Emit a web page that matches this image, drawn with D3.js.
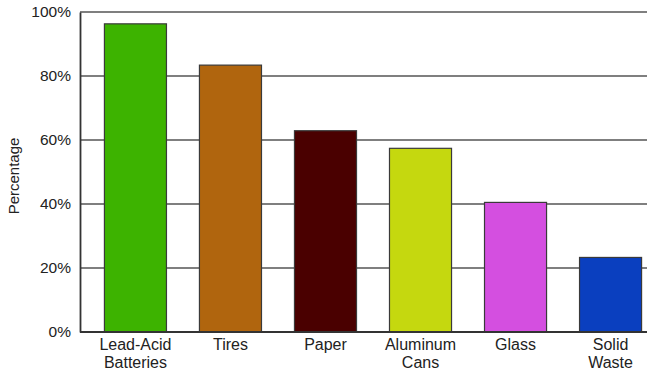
<!DOCTYPE html>
<html>
<head>
<meta charset="utf-8">
<script src="https://cdn.jsdelivr.net/npm/d3@7"></script>
<style>
  html, body { margin: 0; padding: 0; background: #fff; }
  svg { display: block; font-family: "Liberation Sans", Arial, sans-serif; }
</style>
</head>
<body>
<svg id="chart" width="647" height="378"></svg>
<script>
// Recycling rates by material
const categories = ["Lead-Acid Batteries", "Tires", "Paper", "Aluminum Cans", "Glass", "Solid Waste"];
const labelLines = [["Lead-Acid", "Batteries"], ["Tires"], ["Paper"], ["Aluminum", "Cans"], ["Glass"], ["Solid", "Waste"]];
const values = [96.3, 83.4, 62.9, 57.4, 40.5, 23.3];
const colors = ["#3db300", "#b0650e", "#4a0000", "#c5d80f", "#d44fe0", "#0a3fbf"];
const yTicks = [0, 20, 40, 60, 80, 100];

const svg = d3.select("#chart");
const plotLeft = 80, plotRight = 666, plotTop = 12, plotBottom = 332;

const x = d3.scaleBand()
  .domain(categories)
  .range([plotLeft, plotRight])
  .paddingInner(0.347)
  .paddingOuter(0.257);

const y = d3.scaleLinear().domain([0, 100]).range([plotBottom, plotTop]);

// Gridlines
svg.append("g")
  .selectAll("line")
  .data(yTicks.filter(d => d > 0))
  .join("line")
  .attr("x1", plotLeft).attr("x2", 647)
  .attr("y1", d => y(d)).attr("y2", d => y(d))
  .attr("stroke", "#555").attr("stroke-width", 1.5);

// Bars
svg.append("g")
  .selectAll("rect")
  .data(categories)
  .join("rect")
  .attr("x", d => x(d))
  .attr("width", x.bandwidth())
  .attr("y", (d, i) => y(values[i]))
  .attr("height", (d, i) => y(0) - y(values[i]))
  .attr("fill", (d, i) => colors[i])
  .attr("stroke", "#3a3a3a")
  .attr("stroke-width", 1.2);

// Y axis
const yAxis = d3.axisLeft(y).tickValues(yTicks).tickFormat(d => d + "%").tickSize(0).tickPadding(9);
const gy = svg.append("g").attr("transform", `translate(${plotLeft},0)`).call(yAxis);
gy.select(".domain").attr("stroke", "#333").attr("stroke-width", 1.8);
gy.selectAll("text").attr("font-size", 15.5).attr("fill", "#222")
  .attr("font-family", "Liberation Sans, Arial, sans-serif");

// X axis
const xAxis = d3.axisBottom(x).tickSize(0).tickFormat("");
const gx = svg.append("g").attr("transform", `translate(0,${plotBottom})`).call(xAxis);
gx.select(".domain").attr("d", `M${plotLeft},0H647`).attr("stroke", "#333").attr("stroke-width", 1.8);

gx.selectAll(".tick").each(function(d, i) {
  const t = d3.select(this).append("text")
    .attr("text-anchor", "middle")
    .attr("fill", "#222")
    .attr("font-size", 16)
    .attr("font-family", "Liberation Sans, Arial, sans-serif");
  labelLines[i].forEach((line, j) => {
    t.append("tspan").attr("x", 0).attr("y", 18 + j * 18).text(line);
  });
});

// Y axis title
svg.append("text")
  .attr("transform", `translate(19,176) rotate(-90)`)
  .attr("text-anchor", "middle")
  .attr("fill", "#222")
  .attr("font-size", 15)
  .text("Percentage");
</script>
</body>
</html>
